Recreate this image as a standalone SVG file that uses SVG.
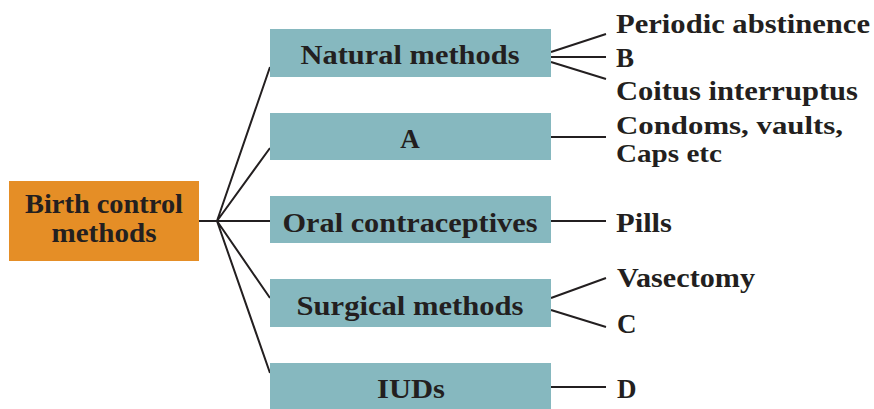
<svg xmlns="http://www.w3.org/2000/svg" width="874" height="409" viewBox="0 0 874 409">
<style>
.box{fill:#86B8BF}
.root{fill:#E58E26}
text{font-family:"Liberation Serif","Times New Roman",serif;font-weight:bold;font-size:27px;fill:#231F20}
.c{text-anchor:middle}
.s{font-size:25px}
.ln{stroke:#231F20;stroke-width:2;fill:none}
</style>
<rect width="874" height="409" fill="#fff"/>
<g id="connectors">
<path class="ln" d="M199 221H270M217 221L270 67M217 221L270 148M217 221L270 298M217 221L270 373"/>
<path class="ln" d="M551 52L606 34M551 57H606M551 62L606 79"/>
<path class="ln" d="M551 137H606M551 221H606M551 298L606 278M551 310L606 327M551 387H606"/>
</g>
<g id="root">
<rect class="root" x="9" y="181" width="190" height="80"/>
<text class="c" x="104" y="213" textLength="158" lengthAdjust="spacingAndGlyphs">Birth control</text>
<text class="c" x="104" y="242" textLength="105" lengthAdjust="spacingAndGlyphs">methods</text>
</g>
<g id="natural">
<rect class="box" x="270" y="29" width="281" height="48"/>
<text class="c" x="410" y="64" textLength="219" lengthAdjust="spacingAndGlyphs">Natural methods</text>
</g>
<g id="a">
<rect class="box" x="270" y="113" width="281" height="47"/>
<text class="c" x="410" y="148">A</text>
</g>
<g id="oral">
<rect class="box" x="270" y="196" width="281" height="47"/>
<text class="c" x="410" y="232" textLength="255" lengthAdjust="spacingAndGlyphs">Oral contraceptives</text>
</g>
<g id="surgical">
<rect class="box" x="270" y="279" width="281" height="48"/>
<text class="c" x="410" y="315" textLength="227" lengthAdjust="spacingAndGlyphs">Surgical methods</text>
</g>
<g id="iuds">
<rect class="box" x="270" y="363" width="281" height="46"/>
<text class="c" x="411" y="398" textLength="68" lengthAdjust="spacingAndGlyphs">IUDs</text>
</g>
<g id="leaves">
<text x="616" y="33" textLength="254" lengthAdjust="spacingAndGlyphs">Periodic abstinence</text>
<text x="616" y="67">B</text>
<text x="616" y="100" textLength="242" lengthAdjust="spacingAndGlyphs">Coitus interruptus</text>
<text class="s" x="616" y="134" textLength="227" lengthAdjust="spacingAndGlyphs">Condoms, vaults,</text>
<text class="s" x="616" y="162" textLength="106" lengthAdjust="spacingAndGlyphs">Caps etc</text>
<text x="616" y="232" textLength="56" lengthAdjust="spacingAndGlyphs">Pills</text>
<text x="617" y="287" textLength="138" lengthAdjust="spacingAndGlyphs">Vasectomy</text>
<text x="617" y="333">C</text>
<text x="617" y="398">D</text>
</g>
</svg>
